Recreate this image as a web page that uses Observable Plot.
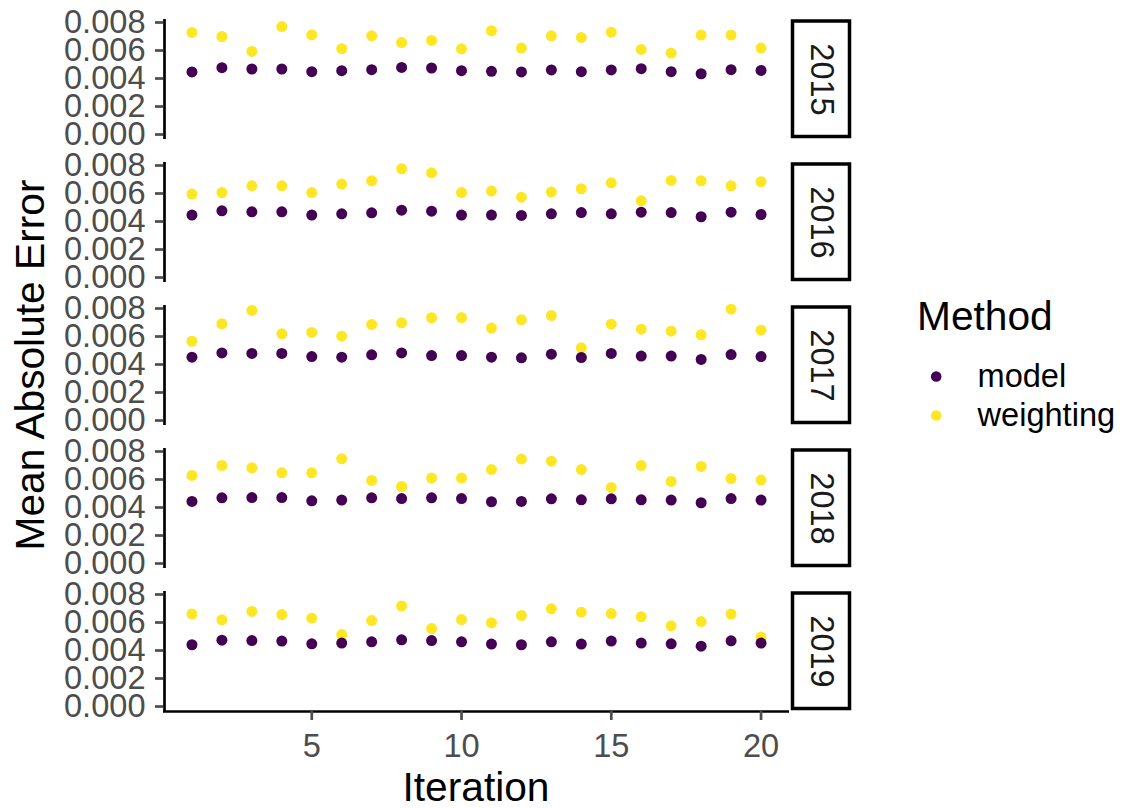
<!DOCTYPE html>
<html>
<head>
<meta charset="utf-8">
<script src="https://cdn.jsdelivr.net/npm/d3@7"></script>
<script src="https://cdn.jsdelivr.net/npm/@observablehq/plot@0.6"></script>
<style>
  html, body { margin: 0; padding: 0; background: #fff; }
  #chart { position: relative; width: 1123px; height: 808px; font-family: "Liberation Sans", Arial, sans-serif; }
  #chart > div, #chart > svg { position: absolute; }
</style>
</head>
<body>
<div id="chart"></div>
<script>
// Mean absolute error per iteration, by year and method
const years = [2015, 2016, 2017, 2018, 2019];
const methods = ["model", "weighting"];
const methodColors = ["#440154", "#FDE725"];
const iterations = [1, 2, 3, 4, 5, 6, 7, 8, 9, 10, 11, 12, 13, 14, 15, 16, 17, 18, 19, 20];
const xTicks = [5, 10, 15, 20];
const yTicks = [0, 0.002, 0.004, 0.006, 0.008];

const model2015 = [0.00447, 0.00477, 0.00468, 0.00468, 0.00449, 0.00456, 0.00463, 0.00479, 0.00475, 0.00456, 0.00451, 0.00447, 0.00461, 0.00449, 0.00461, 0.00470, 0.00449, 0.00434, 0.00463, 0.00458];
const weighting2015 = [0.00729, 0.00700, 0.00593, 0.00771, 0.00712, 0.00613, 0.00705, 0.00657, 0.00672, 0.00612, 0.00741, 0.00617, 0.00705, 0.00693, 0.00731, 0.00608, 0.00582, 0.00710, 0.00710, 0.00617];
const model2016 = [0.00446, 0.00476, 0.00469, 0.00469, 0.00446, 0.00455, 0.00462, 0.00481, 0.00474, 0.00446, 0.00446, 0.00443, 0.00455, 0.00464, 0.00455, 0.00467, 0.00464, 0.00434, 0.00467, 0.00450];
const weighting2016 = [0.00596, 0.00607, 0.00655, 0.00655, 0.00607, 0.00667, 0.00691, 0.00776, 0.00748, 0.00607, 0.00617, 0.00574, 0.00610, 0.00634, 0.00676, 0.00548, 0.00693, 0.00691, 0.00655, 0.00684];
const model2017 = [0.00452, 0.00483, 0.00479, 0.00479, 0.00457, 0.00452, 0.00469, 0.00483, 0.00464, 0.00464, 0.00452, 0.00448, 0.00474, 0.00450, 0.00479, 0.00460, 0.00460, 0.00436, 0.00471, 0.00457];
const weighting2017 = [0.00566, 0.00691, 0.00786, 0.00619, 0.00629, 0.00602, 0.00686, 0.00698, 0.00734, 0.00735, 0.00660, 0.00719, 0.00750, 0.00519, 0.00688, 0.00652, 0.00638, 0.00612, 0.00795, 0.00645];
const model2018 = [0.00443, 0.00469, 0.00471, 0.00471, 0.00448, 0.00453, 0.00469, 0.00464, 0.00469, 0.00464, 0.00441, 0.00443, 0.00462, 0.00455, 0.00462, 0.00455, 0.00453, 0.00434, 0.00464, 0.00453];
const weighting2018 = [0.00629, 0.00700, 0.00684, 0.00648, 0.00648, 0.00748, 0.00593, 0.00550, 0.00610, 0.00610, 0.00671, 0.00746, 0.00731, 0.00671, 0.00543, 0.00700, 0.00586, 0.00693, 0.00607, 0.00596];
const model2019 = [0.00441, 0.00474, 0.00471, 0.00467, 0.00448, 0.00453, 0.00462, 0.00476, 0.00471, 0.00462, 0.00446, 0.00441, 0.00462, 0.00446, 0.00467, 0.00453, 0.00448, 0.00431, 0.00469, 0.00453];
const weighting2019 = [0.00660, 0.00619, 0.00679, 0.00657, 0.00631, 0.00514, 0.00614, 0.00717, 0.00557, 0.00621, 0.00598, 0.00650, 0.00698, 0.00674, 0.00664, 0.00641, 0.00576, 0.00607, 0.00660, 0.00496];

const seriesByYear = {
  2015: {model: model2015, weighting: weighting2015},
  2016: {model: model2016, weighting: weighting2016},
  2017: {model: model2017, weighting: weighting2017},
  2018: {model: model2018, weighting: weighting2018},
  2019: {model: model2019, weighting: weighting2019}
};

// Long table: weighting first so model points sit on top where they overlap
const rows = [];
for (const year of years) {
  for (const method of ["weighting", "model"]) {
    seriesByYear[year][method].forEach((mae, i) => rows.push({year, method, iteration: iterations[i], mae}));
  }
}

const pad = (iterations[iterations.length - 1] - iterations[0]) * 0.05;
const xDomain = [iterations[0] - pad, iterations[iterations.length - 1] + pad];
const yDomain = [-0.000356, 0.008214];

const font = "'Liberation Sans', Arial, sans-serif";
const tickFont = 32.6;
const titleFont = 40.7;

const chart = Plot.plot({
  width: 860,
  height: 808,
  marginLeft: 163,
  marginRight: 71,
  marginTop: 19,
  marginBottom: 97,
  style: {fontFamily: font, background: "white", overflow: "visible"},
  x: {domain: xDomain},
  y: {domain: yDomain},
  fy: {domain: years, paddingInner: 0.1608, paddingOuter: 0, axis: null, round: false},
  color: {domain: methods, range: methodColors},
  marks: [
    // facet strips on the right
    Plot.frame({stroke: "black", strokeWidth: 3.5, fill: "white", insetLeft: 629, insetRight: -60, insetTop: 1.5, insetBottom: 3}),
    Plot.text(years, {fy: d => d, text: d => String(d), frameAnchor: "right", textAnchor: "middle", lineAnchor: "middle", dx: 31.5, rotate: 90, fontSize: tickFont, fill: "#1A1A1A"}),
    // axis lines
    Plot.ruleX([xDomain[0]], {stroke: "black", strokeWidth: 2.7, dx: 1}),
    Plot.ruleY([{fy: years[years.length - 1], v: yDomain[0]}], {y: "v", fy: "fy", stroke: "black", strokeWidth: 2.7}),
    Plot.axisY(yTicks, {tickSize: 8, tickPadding: 10, tickFormat: d3.format(".3f"), fontSize: tickFont, color: "#4D4D4D", strokeWidth: 2.7, label: null}),
    Plot.axisX(xTicks, {tickSize: 9, tickPadding: 13, fontSize: tickFont, color: "#4D4D4D", strokeWidth: 2.7, label: null}),
    Plot.dot(rows, {x: "iteration", y: "mae", fy: "year", fill: "method", r: 5.5})
  ]
});

// axis titles
const svg = d3.select(chart);
svg.append("text")
  .attr("x", 476).attr("y", 801)
  .attr("text-anchor", "middle")
  .attr("font-size", titleFont).attr("fill", "black")
  .text("Iteration");
svg.append("text")
  .attr("transform", "translate(43.5,365) rotate(-90)")
  .attr("text-anchor", "middle")
  .attr("font-size", titleFont).attr("fill", "black")
  .text("Mean Absolute Error");

chart.style.left = "0px";
chart.style.top = "0px";
document.getElementById("chart").appendChild(chart);

// legend
const legend = Plot.plot({
  width: 243,
  height: 160,
  margin: 0,
  style: {fontFamily: font, background: "transparent"},
  y: {type: "point", domain: methods, range: [95.7, 135], padding: 0, axis: null},
  color: {domain: methods, range: methodColors},
  marks: [
    Plot.dot(methods, {y: d => d, fill: d => d, r: 5.3, frameAnchor: "left", dx: 55.7}),
    Plot.text(methods, {y: d => d, text: d => d, frameAnchor: "left", dx: 97, textAnchor: "start", fontSize: tickFont, fill: "black"})
  ]
});
d3.select(legend).append("text")
  .attr("x", 37).attr("y", 50)
  .attr("text-anchor", "start")
  .attr("font-size", titleFont).attr("fill", "black")
  .text("Method");
legend.style.left = "880px";
legend.style.top = "280px";
document.getElementById("chart").appendChild(legend);
</script>
</body>
</html>
